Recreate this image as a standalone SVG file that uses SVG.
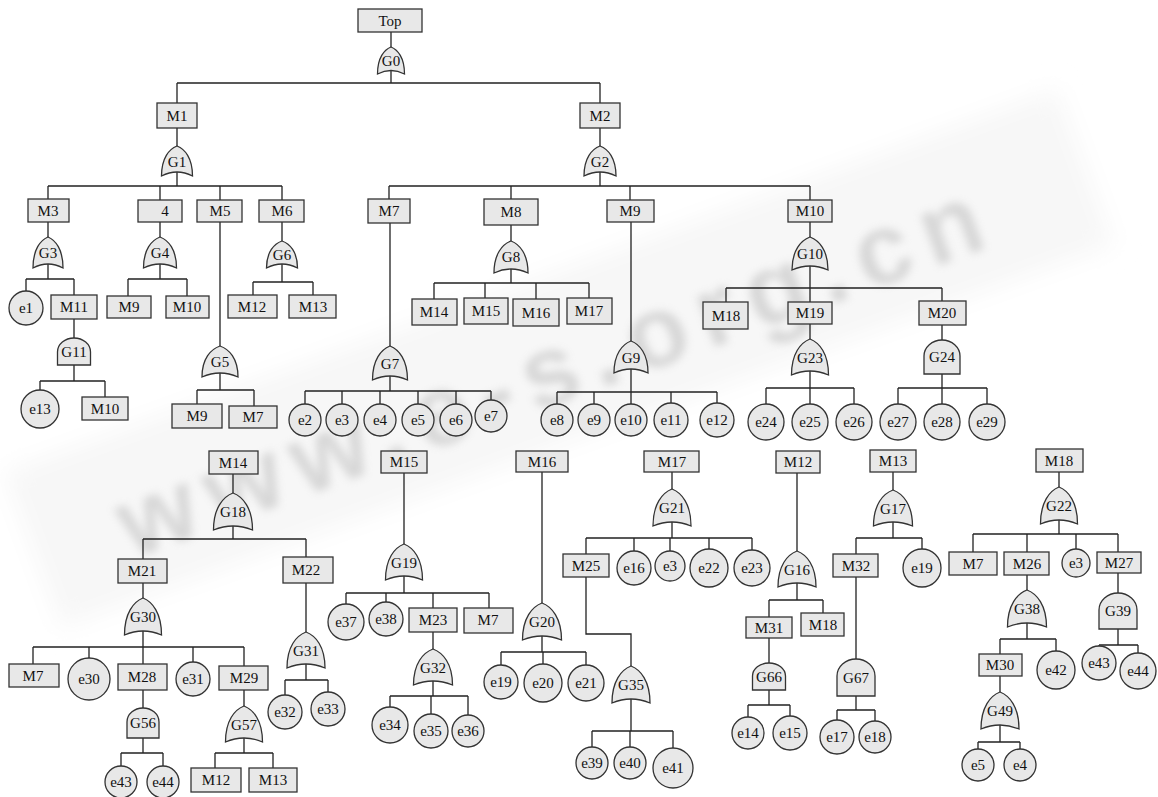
<svg xmlns="http://www.w3.org/2000/svg" width="1158" height="797" viewBox="0 0 1158 797">
<style>
  .n { fill: #e8e8e8; stroke: #333; stroke-width: 1.3; }
  .t { font-family: "Liberation Serif", "DejaVu Serif", serif; font-size: 15px; text-anchor: middle; fill: #111; }
  .c { fill: none; stroke: #222; stroke-width: 1.3; }
  .wm { font-family: "Liberation Sans", "DejaVu Sans", sans-serif; font-weight: bold; font-size: 100px; fill: #a8a8a8; }
</style>
<defs>
  <filter id="soft" x="-20%" y="-50%" width="140%" height="200%"><feGaussianBlur stdDeviation="4"/></filter>
  <filter id="softer" x="-20%" y="-50%" width="140%" height="200%"><feGaussianBlur stdDeviation="12"/></filter>
</defs>
<rect width="1158" height="797" fill="#fff"/>

<!-- background watermark -->
<g id="watermark" transform="translate(132,559) rotate(-20)">
  <rect x="-90" y="-125" width="1120" height="165" fill="#f7f7f7" filter="url(#softer)"/>
  <text class="wm" x="0" y="0" textLength="913" lengthAdjust="spacing" opacity="0.4" filter="url(#soft)">www.e-s.org.cn</text>
</g>

<!-- connectors -->
<g id="connectors" class="c">
  <path d="M391,32V47 M391,70V83 M177,83H600 M177,83V103 M600,83V103"/>
  <path d="M177,128V146 M177,172V186 M48,186H282 M48,186V199 M160,186V200 M220,186V200 M282,186V200"/>
  <path d="M600,128V146 M600,172V186 M389,186H810 M389,186V199 M511,186V199 M630,186V200 M810,186V200"/>
  <path d="M48,222V237 M48,264V279 M26,279H74 M26,279V291 M74,279V295"/>
  <path d="M160,222V237 M160,264V279 M128,279H187 M128,279V296 M187,279V296"/>
  <path d="M220,222V346 M220,373V390 M197,390H254 M197,390V404 M254,390V406"/>
  <path d="M282,222V241 M282,264V282 M253,282H313 M253,282V295 M313,282V295"/>
  <path d="M74,319V338 M74,365V381 M40,381H105 M40,381V390 M105,381V397"/>
  <path d="M390,223V346 M390,376V391 M305,391H491 M305,391V404 M342,391V404 M380,391V404 M418,391V404 M456,391V404 M491,391V400"/>
  <path d="M511,225V241 M511,269V283 M434,283H589 M434,283V299 M485,283V298 M536,283V299 M589,283V298"/>
  <path d="M631,222V341 M631,369V392 M557,392H717 M557,392V404 M594,392V404 M631,392V404 M671,392V404 M717,392V403"/>
  <path d="M810,222V237 M810,266V288 M726,288H942 M726,288V302 M810,288V302 M942,288V301"/>
  <path d="M810,324V339 M810,371V388 M766,388H854 M766,388V404 M810,388V404 M854,388V404"/>
  <path d="M942,325V340 M942,374V388 M898,388H987 M898,388V404 M942,388V404 M987,388V404"/>
  <path d="M233,474V493 M233,526V539 M143,539H306 M143,539V559 M306,539V557"/>
  <path d="M143,583V598 M143,631V647 M33,647H244 M33,647V664 M89,647V658 M143,647V664 M193,647V662 M244,647V666"/>
  <path d="M306,583V632 M306,664V680 M285,680H328 M285,680V695 M328,680V692"/>
  <path d="M143,690V708 M143,738V753 M121,753H163 M121,753V766 M163,753V766"/>
  <path d="M244,690V706 M244,738V753 M215,753H273 M215,753V768 M273,753V768"/>
  <path d="M404,473V544 M404,576V593 M346,593H489 M346,593V604 M386,593V602 M433,593V608 M489,593V608"/>
  <path d="M433,632V649 M433,681V696 M390,696H468 M390,696V707 M431,696V714 M468,696V715"/>
  <path d="M542,472V603 M542,636V652 M501,652H586 M501,652V665 M543,652V664 M586,652V665"/>
  <path d="M672,472V489 M672,522V538 M586,538H752 M586,538V554 M634,538V551 M670,538V551 M709,538V549 M752,538V550"/>
  <path d="M586,577V634H631V666 M631,699V731 M592,731H673 M592,731V747 M630,731V747 M673,731V748"/>
  <path d="M797,473V551 M797,583V600 M769,600H823 M769,600V617 M823,600V613"/>
  <path d="M769,638V663 M769,690V705 M748,705H790 M748,705V717 M790,705V716"/>
  <path d="M893,472V490 M893,522V538 M856,538H922 M856,538V554 M922,538V549"/>
  <path d="M856,577V659 M856,696V710 M837,710H875 M837,710V720 M875,710V721"/>
  <path d="M1059,472V487 M1059,520V534 M973,534H1118 M973,534V552 M1027,534V552 M1076,534V549 M1118,534V552"/>
  <path d="M1027,575V590 M1027,623V639 M1000,639H1056 M1000,639V654 M1056,639V651"/>
  <path d="M1118,573V593 M1118,629V645 M1099,645H1138 M1099,645V646 M1138,645V653"/>
  <path d="M1000,676V692 M1000,725V742 M978,742H1020 M978,742V749 M1020,742V749"/>
</g>

<!-- events (rectangles) -->
<g id="Top"><rect class="n" x="358" y="9" width="64" height="23"/><text class="t" x="390" y="26">Top</text></g>
<g id="M1"><rect class="n" x="157" y="103" width="40" height="25"/><text class="t" x="177" y="121">M1</text></g>
<g id="M2"><rect class="n" x="580" y="103" width="40" height="25"/><text class="t" x="600" y="121">M2</text></g>
<g id="M3"><rect class="n" x="28" y="199" width="41" height="23"/><text class="t" x="48" y="216">M3</text></g>
<g id="M4"><rect class="n" x="138" y="200" width="44" height="22"/><text class="t" x="165" y="216">4</text></g>
<g id="M5"><rect class="n" x="197" y="200" width="45" height="22"/><text class="t" x="220" y="216">M5</text></g>
<g id="M6"><rect class="n" x="259" y="200" width="45" height="22"/><text class="t" x="282" y="216">M6</text></g>
<g id="M7"><rect class="n" x="368" y="199" width="42" height="24"/><text class="t" x="389" y="216">M7</text></g>
<g id="M8"><rect class="n" x="484" y="199" width="54" height="26"/><text class="t" x="511" y="217">M8</text></g>
<g id="M9"><rect class="n" x="607" y="200" width="47" height="22"/><text class="t" x="630" y="216">M9</text></g>
<g id="M10"><rect class="n" x="788" y="200" width="44" height="22"/><text class="t" x="810" y="216">M10</text></g>
<g id="M11"><rect class="n" x="51" y="295" width="46" height="24"/><text class="t" x="74" y="312">M11</text></g>
<g id="M9-b"><rect class="n" x="107" y="296" width="44" height="22"/><text class="t" x="129" y="312">M9</text></g>
<g id="M10-b"><rect class="n" x="166" y="296" width="43" height="22"/><text class="t" x="187" y="312">M10</text></g>
<g id="M12-b"><rect class="n" x="228" y="295" width="49" height="23"/><text class="t" x="252" y="312">M12</text></g>
<g id="M13-b"><rect class="n" x="289" y="295" width="47" height="23"/><text class="t" x="313" y="312">M13</text></g>
<g id="M14-b"><rect class="n" x="412" y="299" width="45" height="26"/><text class="t" x="434" y="317">M14</text></g>
<g id="M15-b"><rect class="n" x="464" y="298" width="44" height="26"/><text class="t" x="486" y="316">M15</text></g>
<g id="M16-b"><rect class="n" x="513" y="299" width="46" height="27"/><text class="t" x="536" y="318">M16</text></g>
<g id="M17-b"><rect class="n" x="567" y="298" width="45" height="26"/><text class="t" x="589" y="316">M17</text></g>
<g id="M18-b"><rect class="n" x="703" y="302" width="45" height="27"/><text class="t" x="726" y="321">M18</text></g>
<g id="M19"><rect class="n" x="788" y="302" width="44" height="22"/><text class="t" x="810" y="318">M19</text></g>
<g id="M20"><rect class="n" x="919" y="301" width="47" height="24"/><text class="t" x="942" y="318">M20</text></g>
<g id="M10-c"><rect class="n" x="82" y="397" width="46" height="23"/><text class="t" x="105" y="414">M10</text></g>
<g id="M9-c"><rect class="n" x="172" y="404" width="50" height="24"/><text class="t" x="197" y="421">M9</text></g>
<g id="M7-c"><rect class="n" x="229" y="406" width="48" height="22"/><text class="t" x="253" y="422">M7</text></g>

<g id="M14"><rect class="n" x="209" y="451" width="49" height="23"/><text class="t" x="233" y="468">M14</text></g>
<g id="M21"><rect class="n" x="118" y="559" width="49" height="24"/><text class="t" x="142" y="576">M21</text></g>
<g id="M22"><rect class="n" x="283" y="557" width="50" height="26"/><text class="t" x="306" y="575">M22</text></g>
<g id="M7-d"><rect class="n" x="9" y="664" width="50" height="23"/><text class="t" x="33" y="681">M7</text></g>
<g id="M28"><rect class="n" x="118" y="664" width="49" height="26"/><text class="t" x="142" y="682">M28</text></g>
<g id="M29"><rect class="n" x="219" y="666" width="49" height="24"/><text class="t" x="244" y="683">M29</text></g>
<g id="M12-d"><rect class="n" x="191" y="768" width="50" height="24"/><text class="t" x="216" y="785">M12</text></g>
<g id="M13-d"><rect class="n" x="249" y="768" width="48" height="24"/><text class="t" x="273" y="785">M13</text></g>
<g id="M15"><rect class="n" x="381" y="451" width="46" height="22"/><text class="t" x="404" y="467">M15</text></g>
<g id="M23"><rect class="n" x="409" y="608" width="48" height="24"/><text class="t" x="433" y="625">M23</text></g>
<g id="M7-e"><rect class="n" x="464" y="608" width="49" height="25"/><text class="t" x="488" y="625">M7</text></g>
<g id="M16"><rect class="n" x="516" y="451" width="52" height="21"/><text class="t" x="542" y="467">M16</text></g>
<g id="M17"><rect class="n" x="644" y="451" width="55" height="21"/><text class="t" x="672" y="467">M17</text></g>
<g id="M25"><rect class="n" x="563" y="554" width="46" height="23"/><text class="t" x="586" y="571">M25</text></g>
<g id="M12"><rect class="n" x="776" y="451" width="44" height="22"/><text class="t" x="798" y="467">M12</text></g>
<g id="M31"><rect class="n" x="746" y="617" width="46" height="21"/><text class="t" x="769" y="633">M31</text></g>
<g id="M18-f"><rect class="n" x="801" y="613" width="43" height="23"/><text class="t" x="823" y="630">M18</text></g>
<g id="M13"><rect class="n" x="870" y="450" width="46" height="22"/><text class="t" x="893" y="466">M13</text></g>
<g id="M32"><rect class="n" x="833" y="554" width="45" height="23"/><text class="t" x="856" y="571">M32</text></g>
<g id="M18"><rect class="n" x="1036" y="449" width="47" height="23"/><text class="t" x="1059" y="466">M18</text></g>
<g id="M7-f"><rect class="n" x="949" y="552" width="48" height="23"/><text class="t" x="973" y="569">M7</text></g>
<g id="M26"><rect class="n" x="1004" y="552" width="45" height="23"/><text class="t" x="1027" y="569">M26</text></g>
<g id="M27"><rect class="n" x="1097" y="552" width="44" height="21"/><text class="t" x="1119" y="568">M27</text></g>
<g id="M30"><rect class="n" x="979" y="654" width="43" height="22"/><text class="t" x="1000" y="670">M30</text></g>

<!-- OR gates -->
<g id="G0"><path class="n" d="M391,47 c6.75,2.7 13.5,10.8 13.5,27 q-13.5,-7 -27,0 c0,-16.2 6.75,-24.3 13.5,-27z"/><text class="t" x="391" y="66">G0</text></g>
<g id="G1"><path class="n" d="M177,146 c7.75,3 15.5,12 15.5,30 q-15.5,-8 -31,0 c0,-18 7.75,-27 15.5,-30z"/><text class="t" x="177" y="167">G1</text></g>
<g id="G2"><path class="n" d="M600,146 c8,3 16,12 16,30 q-16,-8 -32,0 c0,-18 8,-27 16,-30z"/><text class="t" x="600" y="167">G2</text></g>
<g id="G3"><path class="n" d="M48,237 c7.5,3.1 15,12.4 15,31 q-15,-8 -30,0 c0,-18.6 7.5,-27.9 15,-31z"/><text class="t" x="48" y="258">G3</text></g>
<g id="G4"><path class="n" d="M160,237 c8.25,3.1 16.5,12.4 16.5,31 q-16.5,-8 -33,0 c0,-18.6 8.25,-27.9 16.5,-31z"/><text class="t" x="160" y="258">G4</text></g>
<g id="G6"><path class="n" d="M282,241 c7.75,2.7 15.5,10.8 15.5,27 q-15.5,-8 -31,0 c0,-16.2 7.75,-24.3 15.5,-27z"/><text class="t" x="282" y="260">G6</text></g>
<g id="G8"><path class="n" d="M511,241 c8.5,3.2 17,12.8 17,32 q-17,-8 -34,0 c0,-19.2 8.5,-28.8 17,-32z"/><text class="t" x="511" y="262">G8</text></g>
<g id="G10"><path class="n" d="M810,237 c9,3.3 18,13.2 18,33 q-18,-8 -36,0 c0,-19.8 9,-29.7 18,-33z"/><text class="t" x="810" y="259">G10</text></g>
<g id="G5"><path class="n" d="M220,346 c9,3.1 18,12.4 18,31 q-18,-8 -36,0 c0,-18.6 9,-27.9 18,-31z"/><text class="t" x="220" y="367">G5</text></g>
<g id="G7"><path class="n" d="M390,346 c8.75,3.4 17.5,13.6 17.5,34 q-17.5,-8 -35,0 c0,-20.4 8.75,-30.6 17.5,-34z"/><text class="t" x="390" y="369">G7</text></g>
<g id="G9"><path class="n" d="M631,341 c8.5,3.2 17,12.8 17,32 q-17,-8 -34,0 c0,-19.2 8.5,-28.8 17,-32z"/><text class="t" x="631" y="363">G9</text></g>
<g id="G23"><path class="n" d="M810,339 c9.25,3.6 18.5,14.4 18.5,36 q-18.5,-8 -37,0 c0,-21.6 9.25,-32.4 18.5,-36z"/><text class="t" x="810" y="363">G23</text></g>
<g id="G18"><path class="n" d="M233,493 c9.75,3.7 19.5,14.8 19.5,37 q-19.5,-8 -39,0 c0,-22.2 9.75,-33.3 19.5,-37z"/><text class="t" x="233" y="517">G18</text></g>
<g id="G30"><path class="n" d="M143,598 c9.25,3.7 18.5,14.8 18.5,37 q-18.5,-8 -37,0 c0,-22.2 9.25,-33.3 18.5,-37z"/><text class="t" x="143" y="622">G30</text></g>
<g id="G31"><path class="n" d="M306,632 c9.5,3.6 19,14.4 19,36 q-19,-8 -38,0 c0,-21.6 9.5,-32.4 19,-36z"/><text class="t" x="306" y="656">G31</text></g>
<g id="G57"><path class="n" d="M244,706 c9.25,3.6 18.5,14.4 18.5,36 q-18.5,-8 -37,0 c0,-21.6 9.25,-32.4 18.5,-36z"/><text class="t" x="244" y="730">G57</text></g>
<g id="G19"><path class="n" d="M404,544 c9.25,3.6 18.5,14.4 18.5,36 q-18.5,-8 -37,0 c0,-21.6 9.25,-32.4 18.5,-36z"/><text class="t" x="404" y="568">G19</text></g>
<g id="G32"><path class="n" d="M433,649 c9.75,3.6 19.5,14.4 19.5,36 q-19.5,-8 -39,0 c0,-21.6 9.75,-32.4 19.5,-36z"/><text class="t" x="433" y="673">G32</text></g>
<g id="G20"><path class="n" d="M542,603 c9.75,3.7 19.5,14.8 19.5,37 q-19.5,-8 -39,0 c0,-22.2 9.75,-33.3 19.5,-37z"/><text class="t" x="542" y="627">G20</text></g>
<g id="G21"><path class="n" d="M672,489 c9.5,3.7 19,14.8 19,37 q-19,-8 -38,0 c0,-22.2 9.5,-33.3 19,-37z"/><text class="t" x="672" y="513">G21</text></g>
<g id="G35"><path class="n" d="M631,666 c9.5,3.7 19,14.8 19,37 q-19,-8 -38,0 c0,-22.2 9.5,-33.3 19,-37z"/><text class="t" x="631" y="690">G35</text></g>
<g id="G16"><path class="n" d="M797,551 c9.5,3.6 19,14.4 19,36 q-19,-8 -38,0 c0,-21.6 9.5,-32.4 19,-36z"/><text class="t" x="797" y="575">G16</text></g>
<g id="G17"><path class="n" d="M893,490 c9.75,3.6 19.5,14.4 19.5,36 q-19.5,-8 -39,0 c0,-21.6 9.75,-32.4 19.5,-36z"/><text class="t" x="893" y="514">G17</text></g>
<g id="G22"><path class="n" d="M1059,487 c9.25,3.7 18.5,14.8 18.5,37 q-18.5,-8 -37,0 c0,-22.2 9.25,-33.3 18.5,-37z"/><text class="t" x="1059" y="511">G22</text></g>
<g id="G38"><path class="n" d="M1027,590 c9.75,3.7 19.5,14.8 19.5,37 q-19.5,-8 -39,0 c0,-22.2 9.75,-33.3 19.5,-37z"/><text class="t" x="1027" y="614">G38</text></g>
<g id="G49"><path class="n" d="M1000,692 c9.5,3.7 19,14.8 19,37 q-19,-8 -38,0 c0,-22.2 9.5,-33.3 19,-37z"/><text class="t" x="1000" y="716">G49</text></g>

<!-- AND gates -->
<g id="G11"><path class="n" d="M57.5,365 V352 A16.5,14 0 0 1 90.5,352 V365 Z"/><text class="t" x="74" y="357">G11</text></g>
<g id="G24"><path class="n" d="M924,374 V356 A18,16 0 0 1 960,356 V374 Z"/><text class="t" x="942" y="362">G24</text></g>
<g id="G56"><path class="n" d="M127,738 V722 A16,14 0 0 1 159,722 V738 Z"/><text class="t" x="143" y="728">G56</text></g>
<g id="G66"><path class="n" d="M752.5,690 V676 A16.5,13 0 0 1 785.5,676 V690 Z"/><text class="t" x="769" y="682">G66</text></g>
<g id="G67"><path class="n" d="M837,696 V676 A19,17 0 0 1 875,676 V696 Z"/><text class="t" x="856" y="683">G67</text></g>
<g id="G39"><path class="n" d="M1099,629 V610 A19,17 0 0 1 1137,610 V629 Z"/><text class="t" x="1118" y="616">G39</text></g>

<!-- basic events (circles) -->
<g id="e1"><circle class="n" cx="26" cy="308" r="17"/><text class="t" x="26" y="313">e1</text></g>
<g id="e13"><circle class="n" cx="40" cy="409" r="19"/><text class="t" x="40" y="414">e13</text></g>
<g id="e2"><circle class="n" cx="305" cy="420" r="16"/><text class="t" x="305" y="425">e2</text></g>
<g id="e3"><circle class="n" cx="342" cy="420" r="16"/><text class="t" x="342" y="425">e3</text></g>
<g id="e4"><circle class="n" cx="380" cy="420" r="16"/><text class="t" x="380" y="425">e4</text></g>
<g id="e5"><circle class="n" cx="418" cy="420" r="16"/><text class="t" x="418" y="425">e5</text></g>
<g id="e6"><circle class="n" cx="456" cy="420" r="16"/><text class="t" x="456" y="425">e6</text></g>
<g id="e7"><circle class="n" cx="491" cy="416" r="16"/><text class="t" x="491" y="421">e7</text></g>
<g id="e8"><circle class="n" cx="557" cy="420" r="16"/><text class="t" x="557" y="425">e8</text></g>
<g id="e9"><circle class="n" cx="594" cy="420" r="16"/><text class="t" x="594" y="425">e9</text></g>
<g id="e10"><circle class="n" cx="631" cy="420" r="16"/><text class="t" x="631" y="425">e10</text></g>
<g id="e11"><circle class="n" cx="671" cy="420" r="17"/><text class="t" x="671" y="425">e11</text></g>
<g id="e12"><circle class="n" cx="717" cy="420" r="17"/><text class="t" x="717" y="425">e12</text></g>
<g id="e24"><circle class="n" cx="766" cy="422" r="18"/><text class="t" x="766" y="427">e24</text></g>
<g id="e25"><circle class="n" cx="810" cy="422" r="18"/><text class="t" x="810" y="427">e25</text></g>
<g id="e26"><circle class="n" cx="854" cy="422" r="18"/><text class="t" x="854" y="427">e26</text></g>
<g id="e27"><circle class="n" cx="898" cy="422" r="18"/><text class="t" x="898" y="427">e27</text></g>
<g id="e28"><circle class="n" cx="942" cy="422" r="18"/><text class="t" x="942" y="427">e28</text></g>
<g id="e29"><circle class="n" cx="987" cy="422" r="18"/><text class="t" x="987" y="427">e29</text></g>

<g id="e30"><circle class="n" cx="89" cy="679" r="21"/><text class="t" x="89" y="684">e30</text></g>
<g id="e31"><circle class="n" cx="193" cy="679" r="17"/><text class="t" x="193" y="684">e31</text></g>
<g id="e43-a"><circle class="n" cx="121" cy="782" r="16"/><text class="t" x="121" y="787">e43</text></g>
<g id="e44-a"><circle class="n" cx="163" cy="782" r="16"/><text class="t" x="163" y="787">e44</text></g>
<g id="e32"><circle class="n" cx="285" cy="712" r="17"/><text class="t" x="285" y="717">e32</text></g>
<g id="e33"><circle class="n" cx="328" cy="709" r="17"/><text class="t" x="328" y="714">e33</text></g>
<g id="e37"><circle class="n" cx="346" cy="622" r="18"/><text class="t" x="346" y="627">e37</text></g>
<g id="e38"><circle class="n" cx="386" cy="619" r="17"/><text class="t" x="386" y="624">e38</text></g>
<g id="e34"><circle class="n" cx="390" cy="725" r="18"/><text class="t" x="390" y="730">e34</text></g>
<g id="e35"><circle class="n" cx="431" cy="731" r="17"/><text class="t" x="431" y="736">e35</text></g>
<g id="e36"><circle class="n" cx="468" cy="731" r="16"/><text class="t" x="468" y="736">e36</text></g>
<g id="e19-a"><circle class="n" cx="501" cy="682" r="17"/><text class="t" x="501" y="687">e19</text></g>
<g id="e20"><circle class="n" cx="543" cy="683" r="19"/><text class="t" x="543" y="688">e20</text></g>
<g id="e21"><circle class="n" cx="586" cy="683" r="18"/><text class="t" x="586" y="688">e21</text></g>
<g id="e16"><circle class="n" cx="634" cy="568" r="17"/><text class="t" x="634" y="573">e16</text></g>
<g id="e3-b"><circle class="n" cx="670" cy="566" r="15"/><text class="t" x="670" y="571">e3</text></g>
<g id="e22"><circle class="n" cx="709" cy="568" r="19"/><text class="t" x="709" y="573">e22</text></g>
<g id="e23"><circle class="n" cx="752" cy="568" r="18"/><text class="t" x="752" y="573">e23</text></g>
<g id="e39"><circle class="n" cx="592" cy="763" r="16"/><text class="t" x="592" y="768">e39</text></g>
<g id="e40"><circle class="n" cx="630" cy="763" r="16"/><text class="t" x="630" y="768">e40</text></g>
<g id="e41"><circle class="n" cx="673" cy="768" r="20"/><text class="t" x="673" y="773">e41</text></g>
<g id="e14"><circle class="n" cx="748" cy="733" r="16"/><text class="t" x="748" y="738">e14</text></g>
<g id="e15"><circle class="n" cx="790" cy="733" r="17"/><text class="t" x="790" y="738">e15</text></g>
<g id="e19-b"><circle class="n" cx="922" cy="568" r="19"/><text class="t" x="922" y="573">e19</text></g>
<g id="e17"><circle class="n" cx="837" cy="737" r="17"/><text class="t" x="837" y="742">e17</text></g>
<g id="e18"><circle class="n" cx="875" cy="737" r="16"/><text class="t" x="875" y="742">e18</text></g>
<g id="e3-c"><circle class="n" cx="1076" cy="563" r="14"/><text class="t" x="1076" y="568">e3</text></g>
<g id="e42"><circle class="n" cx="1056" cy="670" r="19"/><text class="t" x="1056" y="675">e42</text></g>
<g id="e43-b"><circle class="n" cx="1099" cy="663" r="17"/><text class="t" x="1099" y="668">e43</text></g>
<g id="e44-b"><circle class="n" cx="1138" cy="671" r="18"/><text class="t" x="1138" y="676">e44</text></g>
<g id="e5-b"><circle class="n" cx="978" cy="765" r="16"/><text class="t" x="978" y="770">e5</text></g>
<g id="e4-b"><circle class="n" cx="1020" cy="765" r="16"/><text class="t" x="1020" y="770">e4</text></g>
</svg>
